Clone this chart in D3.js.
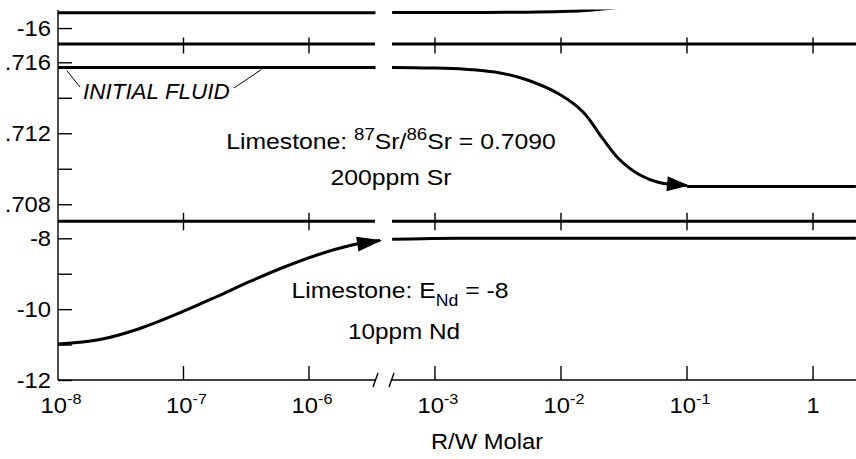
<!DOCTYPE html>
<html>
<head>
<meta charset="utf-8">
<script src="https://cdn.jsdelivr.net/npm/d3@7"></script>
<style>
  body { margin: 0; background: #fff; }
  text { font-family: "Liberation Sans", Arial, Helvetica, sans-serif; fill: #000; }
</style>
</head>
<body>
<svg id="chart" width="856" height="459"></svg>
<script>
// ---- data: x values are log10(R/W molar) ----
const xTicksLeft = [-8, -7, -6];
const xTicksRight = [-3, -2, -1, 0];
const xTickLabels = { "-8": "-8", "-7": "-7", "-6": "-6", "-3": "-3", "-2": "-2", "-1": "-1", "0": "" };

const upperTicks = [-16];
const upperTickLabels = ["-16"];
const srTicks = [0.708, 0.710, 0.712, 0.714, 0.716];
const srTickLabels = [".708", "", ".712", "", ".716"];
const ndTicks = [-12, -11, -10, -9, -8];
const ndTickLabels = ["-12", "", "-10", "", "-8"];

// upper panel: eNd of a second fluid, only its lower edge is in view
const ndUpperLeft = [[-8, -15.565], [-5.47, -15.565]];
const ndUpperRight = [[-3.34, -15.563], [-2.6, -15.558], [-2.33, -15.553], [-2.0, -15.535], [-1.75, -15.49], [-1.5, -15.40]];

// middle panel: 87Sr/86Sr of the fluid
const srInitial = 0.7157;
const srLimestone = 0.7090;
const srLeft = [[-8, 0.71571], [-5.47, 0.71571]];
const srRight = [[-3.341, 0.71571], [-3.040, 0.71568], [-2.762, 0.71561], [-2.524, 0.71545], [-2.278, 0.71503],
                 [-2.016, 0.71421], [-1.825, 0.71320], [-1.667, 0.71168], [-1.540, 0.71055], [-1.381, 0.70968],
                 [-1.222, 0.70923], [-1.0, 0.70906]];
const srTail = [[-1.0, srLimestone], [0.34, srLimestone]];

// lower panel: eNd of the fluid
const ndLimestone = -8;
const ndLeft = [[-8, -10.984], [-7.665, -10.857], [-7.347, -10.546], [-7.004, -10.066], [-6.733, -9.643],
                [-6.47, -9.219], [-6.207, -8.824], [-5.936, -8.471], [-5.673, -8.203], [-5.434, -8.061]];
const ndRight = [[-3.34, -8.03], [-3.1, -8.01], [-2.8, -8.0], [0.34, -8.0]];

// ---- layout ----
const svg = d3.select("#chart");
const X0 = 58, GAP_L = 375, GAP_R = 392, X1 = 856;
const TOP = 10, B_UP = 44, B_MID = 221.3, BOTTOM = 380;
const SX = 1.08; // horizontal text stretch

const xLeft = d3.scaleLog().domain([1e-8, Math.pow(10, -5.474)]).range([X0, GAP_L]);
const xRight = d3.scaleLog().domain([Math.pow(10, -3.341), Math.pow(10, 0.341)]).range([GAP_R, X1]);

const yUpper = d3.scaleLinear().domain([-16.45, -15.49]).range([B_UP, TOP]);
const yMid = d3.scaleLinear().domain([0.70704, 0.71703]).range([B_MID, B_UP]);
const yLow = d3.scaleLinear().domain([-12, -7.52]).range([BOTTOM, B_MID]);

const defs = svg.append("defs");
defs.append("clipPath").attr("id", "clipTop")
  .append("rect").attr("x", 0).attr("y", TOP - 0.5).attr("width", X1).attr("height", 459);

function lineGen(xs, ys) {
  return d3.line()
    .x(d => xs(Math.pow(10, d[0])))
    .y(d => ys(d[1]))
    .curve(d3.curveCatmullRom.alpha(0.5));
}

function drawCurve(data, xs, ys, clip) {
  const p = svg.append("path")
    .attr("d", lineGen(xs, ys)(data))
    .attr("fill", "none").attr("stroke", "#000").attr("stroke-width", 3);
  if (clip) p.attr("clip-path", "url(#" + clip + ")");
  return p;
}

function arrowAtEnd(path, len, halfW) {
  const node = path.node();
  const L = node.getTotalLength();
  const e = node.getPointAtLength(L);
  const b = node.getPointAtLength(Math.max(0, L - len));
  let dx = e.x - b.x, dy = e.y - b.y;
  const n = Math.hypot(dx, dy); dx /= n; dy /= n;
  const tip = [e.x + dx * 2, e.y + dy * 2];
  const base = [tip[0] - dx * len, tip[1] - dy * len];
  const pts = [tip, [base[0] - dy * halfW, base[1] + dx * halfW], [base[0] + dy * halfW, base[1] - dx * halfW]];
  svg.append("path").attr("d", "M" + pts.map(p => p.join(",")).join("L") + "Z").attr("fill", "#000");
}

// ---- panel boundary axes (thick, broken at the gap) ----
function boundary(y, up, down) {
  [[X0, GAP_L], [GAP_R, X1]].forEach(([a, b]) => {
    svg.append("line").attr("x1", a).attr("x2", b).attr("y1", y).attr("y2", y)
      .attr("stroke", "#000").attr("stroke-width", 3);
  });
  xTicksLeft.slice(1).forEach(v => {
    const x = xLeft(Math.pow(10, v));
    svg.append("line").attr("x1", x).attr("x2", x).attr("y1", y - up).attr("y2", y + down)
      .attr("stroke", "#000").attr("stroke-width", 1.4);
  });
  xTicksRight.forEach(v => {
    const x = xRight(Math.pow(10, v));
    svg.append("line").attr("x1", x).attr("x2", x).attr("y1", y - up).attr("y2", y + down)
      .attr("stroke", "#000").attr("stroke-width", 1.4);
  });
}
boundary(B_UP, 6.5, 9.5);
boundary(B_MID, 8.5, 9);

// ---- left axis ----
svg.append("line").attr("x1", X0).attr("x2", X0).attr("y1", TOP).attr("y2", BOTTOM)
  .attr("stroke", "#000").attr("stroke-width", 1.4);

function leftAxis(scale, ticks, labels) {
  const g = svg.append("g").attr("transform", `translate(${X0},0)`)
    .call(d3.axisLeft(scale).tickValues(ticks).tickSize(-14).tickPadding(7)
      .tickFormat((d, i) => labels[i]));
  g.select(".domain").remove();
  g.selectAll(".tick line").attr("stroke", "#000").attr("stroke-width", 1.4);
  g.selectAll(".tick text").attr("font-size", 22).attr("font-family", null).attr("fill", "#000")
    .attr("transform", `scale(${SX},1)`)
    .attr("x", -7 / SX);
}
leftAxis(yUpper, upperTicks, upperTickLabels);
leftAxis(yMid, srTicks, srTickLabels);
leftAxis(yLow, ndTicks, ndTickLabels);

// ---- bottom axis (broken) ----
svg.append("line").attr("x1", X0).attr("x2", GAP_L + 0.5).attr("y1", BOTTOM).attr("y2", BOTTOM)
  .attr("stroke", "#000").attr("stroke-width", 1.4);
svg.append("line").attr("x1", GAP_R - 0.5).attr("x2", X1).attr("y1", BOTTOM).attr("y2", BOTTOM)
  .attr("stroke", "#000").attr("stroke-width", 1.4);
[GAP_L + 0.5, GAP_R - 0.5].forEach(x => {
  svg.append("line").attr("x1", x - 2.5).attr("x2", x + 2.5).attr("y1", BOTTOM + 7).attr("y2", BOTTOM - 7)
    .attr("stroke", "#000").attr("stroke-width", 1.4);
});

function bottomTicks(scale, ticks) {
  ticks.forEach(v => {
    const x = scale(Math.pow(10, v));
    if (x > X0 + 1) {
      svg.append("line").attr("x1", x).attr("x2", x).attr("y1", BOTTOM).attr("y2", BOTTOM - 14)
        .attr("stroke", "#000").attr("stroke-width", 1.4);
    }
    const t = svg.append("text").attr("font-size", 22).attr("text-anchor", "middle")
      .attr("transform", `translate(${x + (v === 0 ? 0 : 3)},413) scale(${SX},1)`);
    if (v === 0) {
      t.text("1");
    } else {
      t.append("tspan").text("10");
      t.append("tspan").attr("font-size", 15).attr("dy", -9).text(xTickLabels[String(v)]);
    }
  });
}
bottomTicks(xLeft, xTicksLeft);
bottomTicks(xRight, xTicksRight);

svg.append("text").attr("font-size", 22).attr("text-anchor", "middle")
  .attr("transform", `translate(487,449) scale(${SX},1)`).text("R/W Molar");

// ---- curves ----
drawCurve(ndUpperLeft, xLeft, yUpper, "clipTop");
drawCurve(ndUpperRight, xRight, yUpper, "clipTop");

drawCurve(srLeft, xLeft, yMid);
const srPath = drawCurve(srRight, xRight, yMid);
drawCurve(srTail, xRight, yMid);
arrowAtEnd(srPath, 22, 7.5);

const ndPath = drawCurve(ndLeft, xLeft, yLow);
drawCurve(ndRight, xRight, yLow);
arrowAtEnd(ndPath, 25, 7.5);

// ---- annotations ----
function label(x, y, anchor, sx, build, extra) {
  const t = svg.append("text").attr("font-size", 22.5).attr("text-anchor", anchor)
    .attr("transform", `translate(${x},${y}) scale(${sx},1)`);
  if (extra) extra(t);
  build(t);
  return t;
}

label(391, 149, "middle", 1.1, t => {
  t.append("tspan").text("Limestone: ");
  t.append("tspan").attr("font-size", 17).attr("dy", -9).text("87");
  t.append("tspan").attr("dy", 9).text("Sr/");
  t.append("tspan").attr("font-size", 17).attr("dy", -9).text("86");
  t.append("tspan").attr("dy", 9).text("Sr = " + srLimestone.toFixed(4));
});
label(391, 185, "middle", 1.1, t => t.text("200ppm Sr"));

label(400, 298, "middle", 1.1, t => {
  t.append("tspan").text("Limestone: E");
  t.append("tspan").attr("font-size", 16).attr("dy", 8).text("Nd");
  t.append("tspan").attr("dy", -8).text(" = " + ndLimestone);
});
label(404, 339, "middle", SX, t => t.text("10ppm Nd"));

label(83, 99, "start", 1.02, t => t.text("INITIAL FLUID"), t => t.attr("font-style", "italic").attr("font-size", 22));

// leader lines from the label to the initial-fluid line
const yInit = yMid(srInitial);
svg.append("line").attr("x1", xLeft(Math.pow(10, -7.93))).attr("y1", yInit + 3)
  .attr("x2", 80).attr("y2", 87).attr("stroke", "#000").attr("stroke-width", 1);
svg.append("line").attr("x1", xLeft(Math.pow(10, -6.38))).attr("y1", yInit + 2)
  .attr("x2", 234).attr("y2", 88).attr("stroke", "#000").attr("stroke-width", 1);
</script>
</body>
</html>
